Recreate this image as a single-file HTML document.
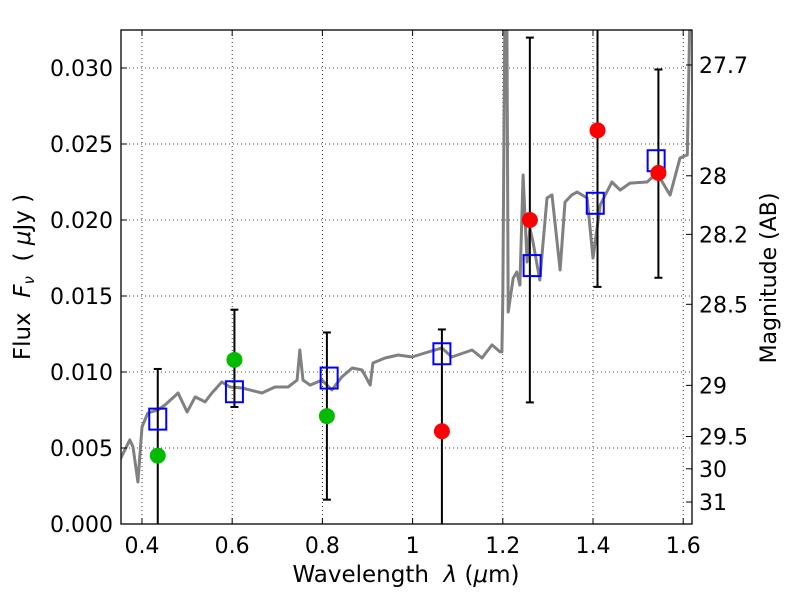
<!DOCTYPE html>
<html><head><meta charset="utf-8"><style>
html,body{margin:0;padding:0;background:#fff;}
svg{display:block;font-family:"DejaVu Sans","Liberation Sans",sans-serif;}
</style></head><body>
<svg id="chart" width="800" height="600" viewBox="0 0 800 600" xmlns="http://www.w3.org/2000/svg">
<defs><clipPath id="clip"><rect x="121" y="30" width="571" height="494"/></clipPath></defs>
<rect x="0" y="0" width="800" height="600" fill="#fff"/>
<g id="grid"></g>
<g id="spec" clip-path="url(#clip)"></g>
<g id="marks" clip-path="url(#clip)"></g>
<rect x="121" y="30" width="571" height="494" fill="none" stroke="#000" stroke-width="1.3"/>
<g id="axes"></g>
<text x="406" y="582" font-size="23" text-anchor="middle" xml:space="preserve">Wavelength  <tspan font-style="italic">λ</tspan> (<tspan font-style="italic">μ</tspan>m)</text>
<text transform="translate(30,277) rotate(-90)" font-size="23" text-anchor="middle" xml:space="preserve">Flux  <tspan font-style="italic">F</tspan><tspan font-style="italic" font-size="15" dy="4">ν</tspan><tspan dy="-4">  ( </tspan><tspan font-style="italic">μ</tspan>Jy )</text>
<text transform="translate(776,278) rotate(-90)" font-size="22" text-anchor="middle">Magnitude (AB)</text>
</svg>
<script>
const xTicks=[0.4,0.6,0.8,1.0,1.2,1.4,1.6];
const xTickLabels=["0.4","0.6","0.8","1","1.2","1.4","1.6"];
const yTicks=[0,0.005,0.010,0.015,0.020,0.025,0.030];
const yTickLabels=["0.000","0.005","0.010","0.015","0.020","0.025","0.030"];
const magTicks=[27.7,28,28.2,28.5,29,29.5,30,31];
const magTickLabels=["27.7","28","28.2","28.5","29","29.5","30","31"];
const specWave=[0.351,0.373,0.380,0.391,0.400,0.413,0.435,0.451,0.480,0.500,0.518,0.540,0.555,0.577,0.595,0.622,0.666,0.695,0.724,0.744,0.750,0.757,0.773,0.799,0.821,0.843,0.866,0.888,0.906,0.912,0.939,0.968,0.999,1.027,1.065,1.087,1.132,1.154,1.176,1.194,1.198,1.200,1.205,1.209,1.212,1.223,1.231,1.238,1.245,1.254,1.260,1.267,1.282,1.298,1.309,1.327,1.338,1.353,1.365,1.387,1.400,1.416,1.442,1.460,1.482,1.520,1.542,1.571,1.593,1.609,1.615];
const specFlux=[0.00421,0.00553,0.00507,0.00276,0.00638,0.00730,0.00750,0.00783,0.00862,0.00737,0.00836,0.00803,0.00862,0.00934,0.00901,0.00895,0.00862,0.00901,0.00901,0.00947,0.01145,0.00947,0.00914,0.00947,0.00882,0.00967,0.01026,0.01013,0.00914,0.01059,0.01092,0.01112,0.01099,0.01125,0.01158,0.01099,0.01145,0.01092,0.01178,0.01132,0.01132,0.01480,0.03500,0.03300,0.01395,0.01618,0.01658,0.01572,0.02296,0.01724,0.01947,0.01855,0.01605,0.02145,0.02165,0.01671,0.02118,0.02165,0.02184,0.02145,0.01750,0.02099,0.02250,0.02197,0.02243,0.02250,0.02309,0.02164,0.02408,0.02428,0.03400];
const greenWave=[0.435,0.605,0.810];
const greenFlux=[0.0045,0.0108,0.0071];
const redWave=[1.065,1.260,1.410,1.545];
const redFlux=[0.0061,0.0200,0.0259,0.0231];
const boxWave=[0.435,0.605,0.815,1.065,1.265,1.405,1.540];
const boxFlux=[0.0069,0.0087,0.0096,0.0112,0.0170,0.0211,0.0239];
const errWave=[0.435,0.605,0.810,1.065,1.260,1.410,1.545];
const errLow=[-0.001,0.0077,0.0016,-0.001,0.0080,0.0156,0.0162];
const errHigh=[0.0102,0.0141,0.0126,0.0128,0.0320,0.0345,0.0299];

const X0=121,X1=692,Y0=524,Y1=30,XMIN=0.3535,XMAX=1.6195,YMIN=0,YMAX=0.0325;
const sx=v=>X0+(v-XMIN)/(XMAX-XMIN)*(X1-X0);
const sy=v=>Y0-(v-YMIN)/(YMAX-YMIN)*(Y0-Y1);
const NS="http://www.w3.org/2000/svg";
function mk(tag,attrs,parent){const e=document.createElementNS(NS,tag);for(const k in attrs)e.setAttribute(k,attrs[k]);parent.appendChild(e);return e;}
const grid=document.getElementById('grid'),axes=document.getElementById('axes'),spec=document.getElementById('spec'),marks=document.getElementById('marks');

xTicks.forEach((t,i)=>{const x=sx(t);
 const g=mk('line',{x1:x,x2:x,y1:Y1,y2:Y0,stroke:'#000','stroke-width':0.8,'stroke-dasharray':'1,3'},grid);
 
 
 mk('line',{x1:x,x2:x,y1:Y0,y2:Y0-6,stroke:'#000'},axes);
 mk('line',{x1:x,x2:x,y1:Y1,y2:Y1+6,stroke:'#000'},axes);
 const tx=mk('text',{x:x,y:553,'font-size':22,'text-anchor':'middle'},axes);tx.textContent=xTickLabels[i];
 
 
});
yTicks.forEach((t,i)=>{const y=sy(t);
 const g=mk('line',{x1:X0,x2:X1,y1:y,y2:y,stroke:'#000','stroke-width':0.8,'stroke-dasharray':'1,3'},grid);
 
 
 mk('line',{x1:X0,x2:X0+6,y1:y,y2:y,stroke:'#000'},axes);
 const tx=mk('text',{x:113,y:y+8,'font-size':22,'text-anchor':'end'},axes);tx.textContent=yTickLabels[i];
 
 
});
magTicks.forEach((m,i)=>{const f=Math.pow(10,-0.4*(m-23.9));const y=sy(f);
 mk('line',{x1:X1,x2:X1-6,y1:y,y2:y,stroke:'#000'},axes);
 const tx=mk('text',{x:699,y:y+8,'font-size':22},axes);tx.textContent=magTickLabels[i];
 
 
});
const pts=specWave.map((w,i)=>sx(w).toFixed(1)+','+sy(specFlux[i]).toFixed(1)).join(' ');
const pl=mk('polyline',{points:pts,fill:'none',stroke:'#808080','stroke-width':3,'stroke-linejoin':'round'},spec);


errWave.forEach((w,i)=>{const x=sx(w),a=sy(errLow[i]),b=sy(errHigh[i]);
 const l=mk('line',{x1:x,x2:x,y1:a,y2:b,stroke:'#000','stroke-width':2},marks);
 
 
 mk('line',{x1:x-4,x2:x+4,y1:a,y2:a,stroke:'#000','stroke-width':2},marks);
 mk('line',{x1:x-4,x2:x+4,y1:b,y2:b,stroke:'#000','stroke-width':2},marks);
});
boxWave.forEach((w,i)=>{const r=mk('rect',{x:sx(w)-8.5,y:sy(boxFlux[i])-10.5,width:17,height:21,fill:'none',stroke:'#0000ff','stroke-width':2},marks);
 
 
});
greenWave.forEach((w,i)=>{const c=mk('circle',{cx:sx(w),cy:sy(greenFlux[i]),r:8,fill:'#00bb00'},marks);
 
 
});
redWave.forEach((w,i)=>{const c=mk('circle',{cx:sx(w),cy:sy(redFlux[i]),r:8,fill:'#ff0000'},marks);
 
 
});
</script>
</body></html>
